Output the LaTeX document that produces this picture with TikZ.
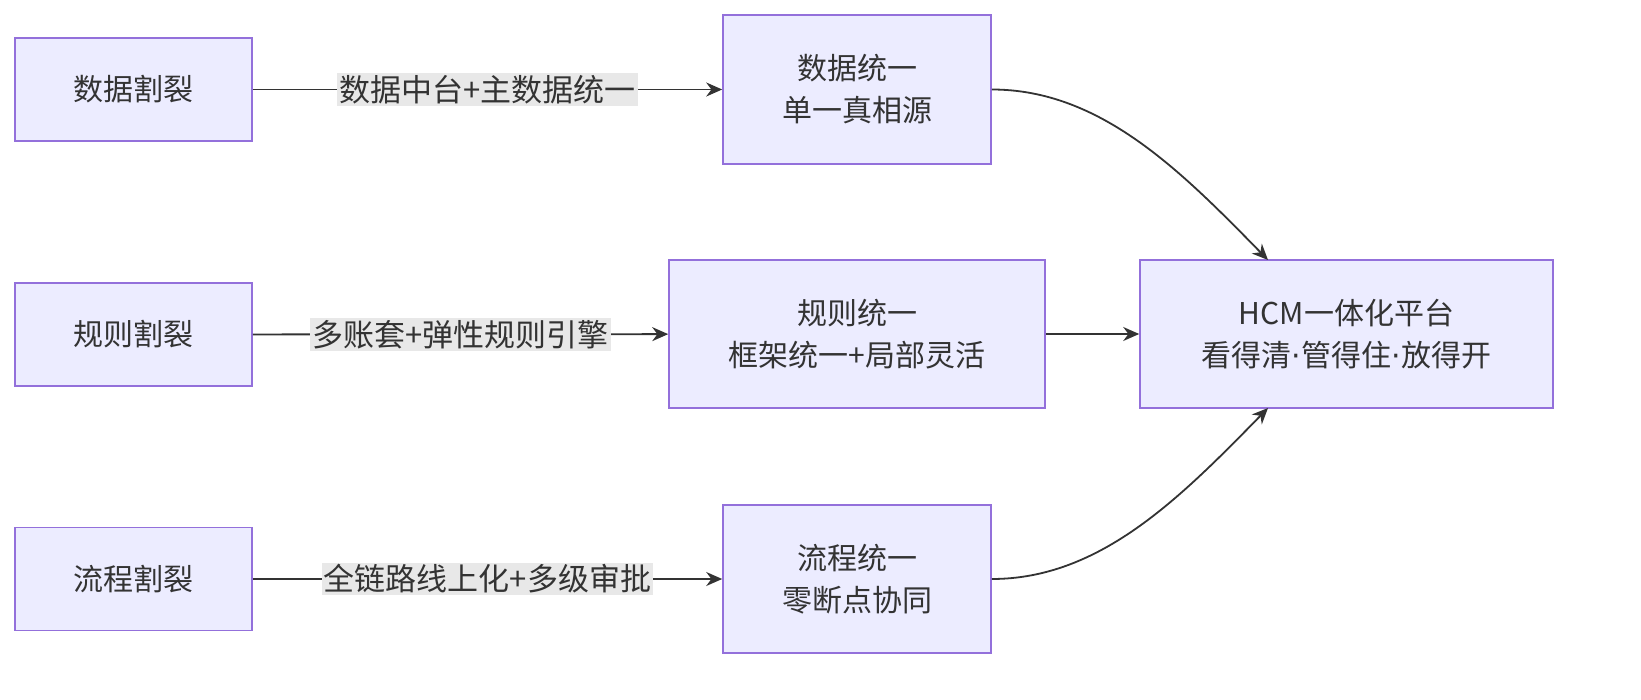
\documentclass[tikz,border=0pt]{standalone}
\usepackage{fontspec}
\setmainfont{Noto Sans CJK SC}
\newfontfamily\dotfont{DejaVu Sans}
\usetikzlibrary{arrows.meta}
\definecolor{bd}{HTML}{9370DB}\definecolor{bf}{HTML}{ECECFF}
\begin{document}
\begin{tikzpicture}[x=0.5pt,y=-0.5pt,
 box/.style={draw=bd,fill=bf,line width=0.8pt,align=center,text=black!80,font=\fontsize{15}{21}\selectfont,inner sep=0pt},
 lab/.style={fill=black!9,text=black!80,font=\fontsize{15.5}{18}\selectfont,inner sep=1pt},
 arr/.style={draw=black!80,line width=0.9pt,-{Stealth[length=8pt,width=7pt]}}]
\node[box,minimum width=118.5pt,minimum height=51.5pt] (a1) at (133.5,89.5) {数据割裂};
\node[box,minimum width=118.5pt,minimum height=51.5pt] (a2) at (133.5,334.5) {规则割裂};
\node[box,minimum width=118.5pt,minimum height=51.5pt] (a3) at (133.5,579) {流程割裂};
\node[box,minimum width=134pt,minimum height=74.5pt] (b1) at (857,89.5) {数据统一\\单一真相源};
\node[box,minimum width=188pt,minimum height=74pt] (b2) at (857,334) {规则统一\\框架统一+局部灵活};
\node[box,minimum width=134pt,minimum height=74pt] (b3) at (857,579) {流程统一\\零断点协同};
\node[box,minimum width=206.5pt,minimum height=74pt] (c) at (1346.5,334) {HCM一体化平台\\看得清{\dotfont·}管得住{\dotfont·}放得开};
\coordinate (ct) at (1268,260); \coordinate (cb) at (1268,408);
\draw[arr] (a1) -- node[lab] {数据中台+主数据统一} (b1);
\draw[arr] (a2) -- node[lab] {多账套+弹性规则引擎} (b2);
\draw[arr] (a3) -- node[lab] {全链路线上化+多级审批} (b3);
\draw[arr] (b1.east) .. controls (1100,89.5) and (1180,170) .. (ct);
\draw[arr] (b2) -- (c);
\draw[arr] (b3.east) .. controls (1100,579) and (1180,498) .. (cb);
\pgfresetboundingbox
\useasboundingbox (0,0) rectangle (1641,700);
\end{tikzpicture}
\end{document}
